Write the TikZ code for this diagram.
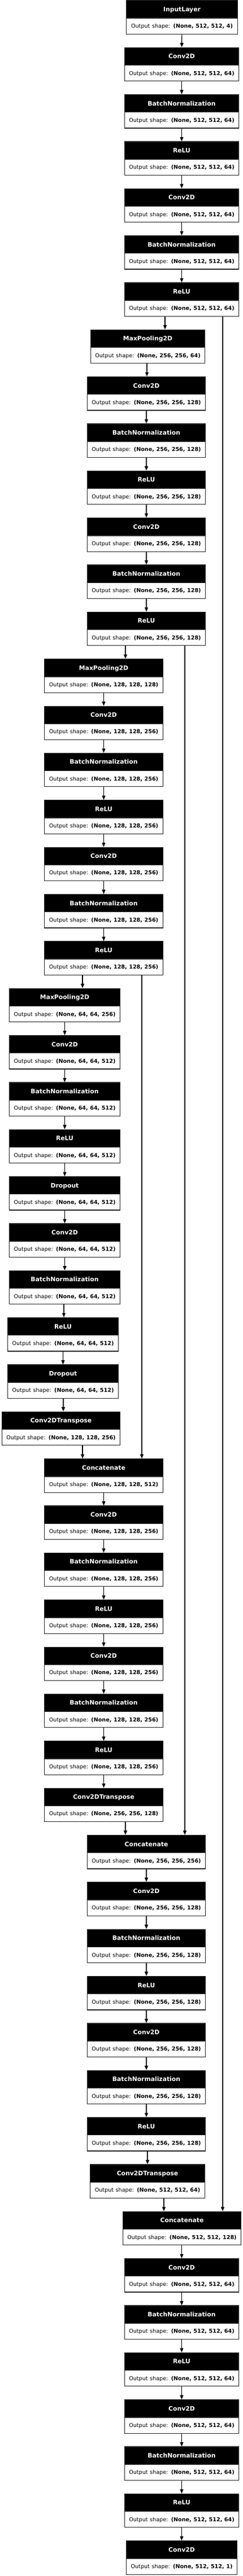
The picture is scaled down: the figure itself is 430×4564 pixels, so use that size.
\documentclass[tikz,border=0pt]{standalone}
\usepackage{fontspec}
\setmainfont{DejaVu Sans}
\usetikzlibrary{arrows.meta, shapes.multipart}
\newcommand{\lyr}[2]{\rule[-11.1pt]{0pt}{30pt}#1\nodepart{two}\color{black}\fontsize{9.6}{11}\mdseries\selectfont\rule[-10pt]{0pt}{27pt}Output shape: \textbf{#2}}

\begin{document}
\begin{tikzpicture}[x=1pt, y=1pt,
  layer/.style={rectangle split, rectangle split parts=2,
    rectangle split part fill={black,white}, draw=black!85, line width=1.2pt,
    inner xsep=0pt, inner ysep=0pt, text width=#1, align=center, text=white,
    font=\fontsize{10.8}{13}\selectfont\bfseries},
  arr/.style={-{Triangle[length=7.5pt,width=6pt]}, line width=1.1pt}]
  \useasboundingbox (0,0) rectangle (430,-4564);
  % Encoder, level 1
  \node[layer=197pt] (in0) at (322,-30.5) {\lyr{InputLayer}{(None, 512, 512, 4)}};
  \node[layer=202pt] (c1) at (321.5,-113.9) {\lyr{Conv2D}{(None, 512, 512, 64)}};
  \node[layer=202pt] (bn1) at (321.5,-197.2) {\lyr{BatchNormalization}{(None, 512, 512, 64)}};
  \node[layer=202pt] (r1) at (321.5,-280.6) {\lyr{ReLU}{(None, 512, 512, 64)}};
  \node[layer=202pt] (c2) at (321.5,-363.9) {\lyr{Conv2D}{(None, 512, 512, 64)}};
  \node[layer=202pt] (bn2) at (321.5,-447.3) {\lyr{BatchNormalization}{(None, 512, 512, 64)}};
  \node[layer=202pt] (r2) at (321.5,-530.6) {\lyr{ReLU}{(None, 512, 512, 64)}};

  % Encoder, level 2
  \node[layer=202pt] (mp1) at (261.5,-614.0) {\lyr{MaxPooling2D}{(None, 256, 256, 64)}};
  \node[layer=209pt] (c3) at (259,-697.3) {\lyr{Conv2D}{(None, 256, 256, 128)}};
  \node[layer=209pt] (bn3) at (259,-780.7) {\lyr{BatchNormalization}{(None, 256, 256, 128)}};
  \node[layer=209pt] (r3) at (259,-864.0) {\lyr{ReLU}{(None, 256, 256, 128)}};
  \node[layer=209pt] (c4) at (259,-947.4) {\lyr{Conv2D}{(None, 256, 256, 128)}};
  \node[layer=209pt] (bn4) at (259,-1030.7) {\lyr{BatchNormalization}{(None, 256, 256, 128)}};
  \node[layer=209pt] (r4) at (259,-1114.1) {\lyr{ReLU}{(None, 256, 256, 128)}};

  % Encoder, level 3
  \node[layer=210pt] (mp2) at (183.5,-1197.4) {\lyr{MaxPooling2D}{(None, 128, 128, 128)}};
  \node[layer=210pt] (c5) at (183.5,-1280.8) {\lyr{Conv2D}{(None, 128, 128, 256)}};
  \node[layer=210pt] (bn5) at (183.5,-1364.1) {\lyr{BatchNormalization}{(None, 128, 128, 256)}};
  \node[layer=210pt] (r5) at (183.5,-1447.5) {\lyr{ReLU}{(None, 128, 128, 256)}};
  \node[layer=210pt] (c6) at (183.5,-1530.8) {\lyr{Conv2D}{(None, 128, 128, 256)}};
  \node[layer=210pt] (bn6) at (183.5,-1614.2) {\lyr{BatchNormalization}{(None, 128, 128, 256)}};
  \node[layer=210pt] (r6) at (183.5,-1697.5) {\lyr{ReLU}{(None, 128, 128, 256)}};

  % Bottleneck
  \node[layer=196pt] (mp3) at (114.5,-1780.9) {\lyr{MaxPooling2D}{(None, 64, 64, 256)}};
  \node[layer=196pt] (c7) at (114.5,-1864.2) {\lyr{Conv2D}{(None, 64, 64, 512)}};
  \node[layer=196pt] (bn7) at (114.5,-1947.6) {\lyr{BatchNormalization}{(None, 64, 64, 512)}};
  \node[layer=196pt] (r7) at (114.5,-2030.9) {\lyr{ReLU}{(None, 64, 64, 512)}};
  \node[layer=196pt] (dr1) at (114.5,-2114.3) {\lyr{Dropout}{(None, 64, 64, 512)}};
  \node[layer=196pt] (c8) at (114.5,-2197.6) {\lyr{Conv2D}{(None, 64, 64, 512)}};
  \node[layer=196pt] (bn8) at (114.5,-2281.0) {\lyr{BatchNormalization}{(None, 64, 64, 512)}};
  \node[layer=196pt] (r8) at (111.5,-2364.3) {\lyr{ReLU}{(None, 64, 64, 512)}};
  \node[layer=196pt] (dr2) at (111.5,-2447.7) {\lyr{Dropout}{(None, 64, 64, 512)}};
  \node[layer=209pt] (up1) at (108,-2531.0) {\lyr{Conv2DTranspose}{(None, 128, 128, 256)}};

  % Decoder, level 3
  \node[layer=210pt] (cat1) at (183.5,-2614.4) {\lyr{Concatenate}{(None, 128, 128, 512)}};
  \node[layer=210pt] (c9) at (183.5,-2697.7) {\lyr{Conv2D}{(None, 128, 128, 256)}};
  \node[layer=210pt] (bn9) at (183.5,-2781.1) {\lyr{BatchNormalization}{(None, 128, 128, 256)}};
  \node[layer=210pt] (r9) at (183.5,-2864.4) {\lyr{ReLU}{(None, 128, 128, 256)}};
  \node[layer=210pt] (c10) at (183.5,-2947.8) {\lyr{Conv2D}{(None, 128, 128, 256)}};
  \node[layer=210pt] (bn10) at (183.5,-3031.1) {\lyr{BatchNormalization}{(None, 128, 128, 256)}};
  \node[layer=210pt] (r10) at (183.5,-3114.5) {\lyr{ReLU}{(None, 128, 128, 256)}};
  \node[layer=210pt] (up2) at (183.5,-3197.8) {\lyr{Conv2DTranspose}{(None, 256, 256, 128)}};

  % Decoder, level 2
  \node[layer=209pt] (cat2) at (259,-3281.2) {\lyr{Concatenate}{(None, 256, 256, 256)}};
  \node[layer=209pt] (c11) at (259,-3364.5) {\lyr{Conv2D}{(None, 256, 256, 128)}};
  \node[layer=209pt] (bn11) at (259,-3447.9) {\lyr{BatchNormalization}{(None, 256, 256, 128)}};
  \node[layer=209pt] (r11) at (259,-3531.2) {\lyr{ReLU}{(None, 256, 256, 128)}};
  \node[layer=209pt] (c12) at (259,-3614.6) {\lyr{Conv2D}{(None, 256, 256, 128)}};
  \node[layer=209pt] (bn12) at (259,-3697.9) {\lyr{BatchNormalization}{(None, 256, 256, 128)}};
  \node[layer=209pt] (r12) at (259,-3781.3) {\lyr{ReLU}{(None, 256, 256, 128)}};
  \node[layer=203pt] (up3) at (261,-3864.6) {\lyr{Conv2DTranspose}{(None, 512, 512, 64)}};

  % Decoder, level 1
  \node[layer=209pt] (cat3) at (322,-3948.0) {\lyr{Concatenate}{(None, 512, 512, 128)}};
  \node[layer=202pt] (c13) at (321.5,-4031.3) {\lyr{Conv2D}{(None, 512, 512, 64)}};
  \node[layer=202pt] (bn13) at (321.5,-4114.7) {\lyr{BatchNormalization}{(None, 512, 512, 64)}};
  \node[layer=202pt] (r13) at (321.5,-4198.0) {\lyr{ReLU}{(None, 512, 512, 64)}};
  \node[layer=202pt] (c14) at (321.5,-4281.4) {\lyr{Conv2D}{(None, 512, 512, 64)}};
  \node[layer=202pt] (bn14) at (321.5,-4364.7) {\lyr{BatchNormalization}{(None, 512, 512, 64)}};
  \node[layer=202pt] (r14) at (321.5,-4448.1) {\lyr{ReLU}{(None, 512, 512, 64)}};
  \node[layer=196pt] (out) at (321.5,-4531.4) {\lyr{Conv2D}{(None, 512, 512, 1)}};

  % x positions of the bent and skip edges
  \coordinate (t1) at (292,0);
  \coordinate (t2) at (260,0);
  \coordinate (t3) at (222,0);
  \coordinate (t4) at (146,0);
  \coordinate (t5) at (113,0);
  \coordinate (t6) at (112,0);
  \coordinate (t7) at (261,0);
  \coordinate (t8) at (290,0);
  \coordinate (s1) at (394,0);
  \coordinate (s2) at (327,0);
  \coordinate (s3) at (251,0);

  % Main path
  \draw[arr] (in0) -- (c1);
  \draw[arr] (c1) -- (bn1);
  \draw[arr] (bn1) -- (r1);
  \draw[arr] (r1) -- (c2);
  \draw[arr] (c2) -- (bn2);
  \draw[arr] (bn2) -- (r2);
  \draw[arr] (r2.south -| t1) -- (mp1.north -| t1);
  \draw[arr] (mp1.south -| t2) -- (c3.north -| t2);
  \draw[arr] (c3) -- (bn3);
  \draw[arr] (bn3) -- (r3);
  \draw[arr] (r3) -- (c4);
  \draw[arr] (c4) -- (bn4);
  \draw[arr] (bn4) -- (r4);
  \draw[arr] (r4.south -| t3) -- (mp2.north -| t3);
  \draw[arr] (mp2) -- (c5);
  \draw[arr] (c5) -- (bn5);
  \draw[arr] (bn5) -- (r5);
  \draw[arr] (r5) -- (c6);
  \draw[arr] (c6) -- (bn6);
  \draw[arr] (bn6) -- (r6);
  \draw[arr] (r6.south -| t4) -- (mp3.north -| t4);
  \draw[arr] (mp3) -- (c7);
  \draw[arr] (c7) -- (bn7);
  \draw[arr] (bn7) -- (r7);
  \draw[arr] (r7) -- (dr1);
  \draw[arr] (dr1) -- (c8);
  \draw[arr] (c8) -- (bn8);
  \draw[arr] (bn8.south -| t5) -- (r8.north -| t5);
  \draw[arr] (r8) -- (dr2);
  \draw[arr] (dr2.south -| t6) -- (up1.north -| t6);
  \draw[arr] (up1.south -| t4) -- (cat1.north -| t4);
  \draw[arr] (cat1) -- (c9);
  \draw[arr] (c9) -- (bn9);
  \draw[arr] (bn9) -- (r9);
  \draw[arr] (r9) -- (c10);
  \draw[arr] (c10) -- (bn10);
  \draw[arr] (bn10) -- (r10);
  \draw[arr] (r10) -- (up2);
  \draw[arr] (up2.south -| t3) -- (cat2.north -| t3);
  \draw[arr] (cat2) -- (c11);
  \draw[arr] (c11) -- (bn11);
  \draw[arr] (bn11) -- (r11);
  \draw[arr] (r11) -- (c12);
  \draw[arr] (c12) -- (bn12);
  \draw[arr] (bn12) -- (r12);
  \draw[arr] (r12.south -| t7) -- (up3.north -| t7);
  \draw[arr] (up3.south -| t8) -- (cat3.north -| t8);
  \draw[arr] (cat3.south -| c13) -- (c13);
  \draw[arr] (c13) -- (bn13);
  \draw[arr] (bn13) -- (r13);
  \draw[arr] (r13) -- (c14);
  \draw[arr] (c14) -- (bn14);
  \draw[arr] (bn14) -- (r14);
  \draw[arr] (r14) -- (out);

  % Skip connections
  \draw[arr] (r2.south -| s1) -- (cat3.north -| s1);
  \draw[arr] (r4.south -| s2) -- (cat2.north -| s2);
  \draw[arr] (r6.south -| s3) -- (cat1.north -| s3);
\end{tikzpicture}
\end{document}
